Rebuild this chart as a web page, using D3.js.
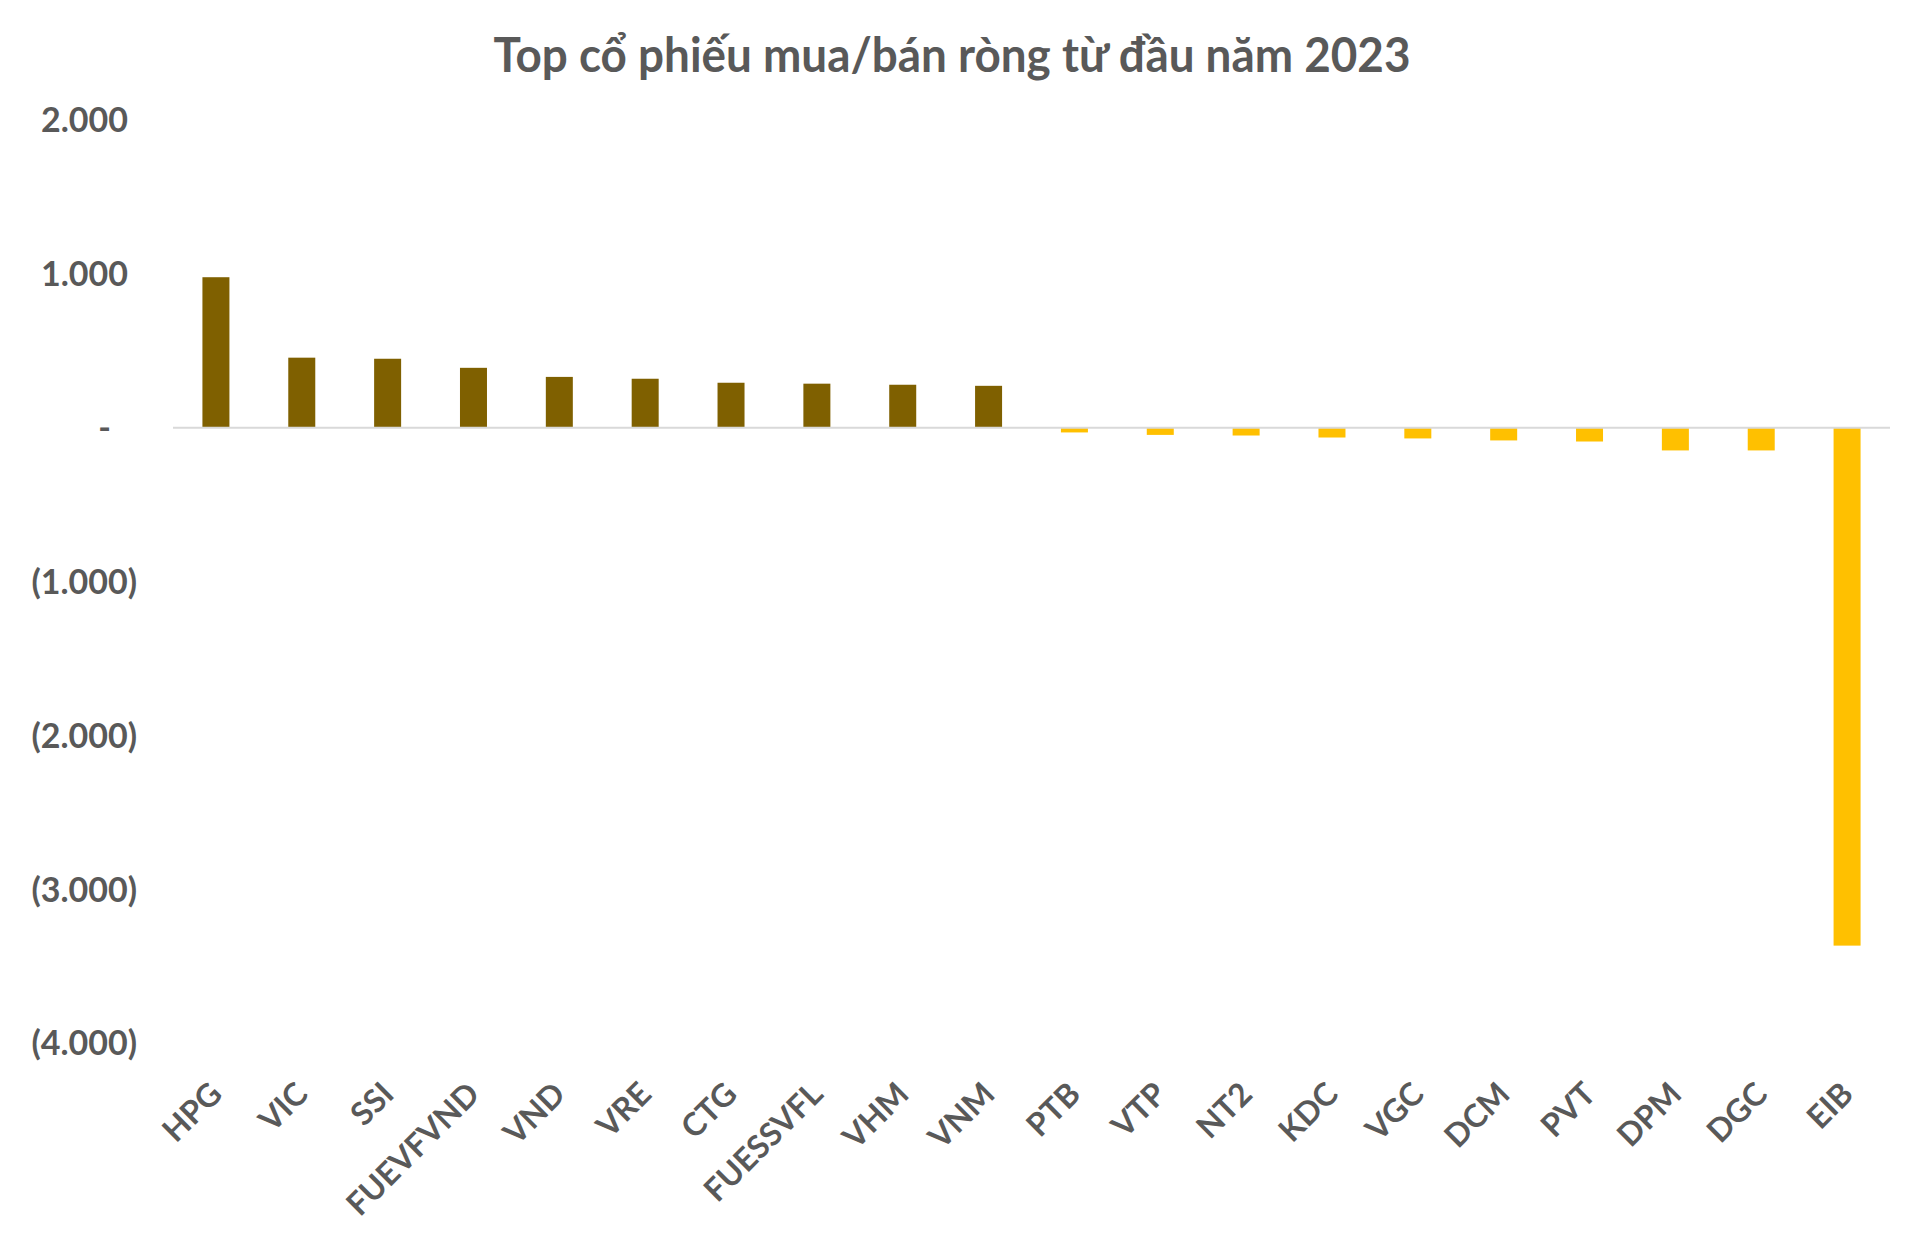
<!DOCTYPE html>
<html>
<head>
<meta charset="utf-8">
<script src="https://cdn.jsdelivr.net/npm/d3@7"></script>
<style>
  body { margin: 0; background: #fff; }
  text { font-family: Lato, "Open Sans", sans-serif; font-weight: bold; fill: #595959; }
</style>
</head>
<body>
<div id="chart"></div>
<script>
// tickers, ordered as in the chart
var tickers = ['HPG', 'VIC', 'SSI', 'FUEVFVND', 'VND', 'VRE', 'CTG', 'FUESSVFL', 'VHM', 'VNM',
               'PTB', 'VTP', 'NT2', 'KDC', 'VGC', 'DCM', 'PVT', 'DPM', 'DGC', 'EIB'];
// net buy/sell value (billion VND)
var netValues = [978, 455, 448, 389, 330, 318, 292, 286, 279, 272,
                 -31, -47, -51, -64, -70, -83, -90, -148, -148, -3367];
var yTicks = [2000, 1000, 0, -1000, -2000, -3000, -4000];
var chartTitle = 'Top cổ phiếu mua/bán ròng từ đầu năm 2023';

var width = 1920, height = 1234;
var margin = {top: 120, right: 30, bottom: 191, left: 173};

var svg = d3.select("#chart")
  .append("svg")
    .attr("width", width)
    .attr("height", height);

svg.append("rect").attr("width", width).attr("height", height).attr("fill", "#fff");

// title
svg.append("text")
    .attr("x", 952)
    .attr("y", 72)
    .attr("text-anchor", "middle")
    .attr("font-size", 47)
    .attr("textLength", 917)
    .attr("lengthAdjust", "spacingAndGlyphs")
    .text(chartTitle);

var data = tickers.map(function(t, i) { return {name: t, value: netValues[i]}; });

var x = d3.scaleBand()
  .domain(tickers)
  .range([margin.left, width - margin.right])
  .paddingInner(0.686)
  .paddingOuter(0.343);

var y = d3.scaleLinear()
  .domain([-4000, 2000])
  .range([height - margin.bottom, margin.top]);

// y axis labels (accounting format: positives padded, negatives in brackets)
var fmt = function(v) {
  var s = d3.format(",")(Math.abs(v)).replace(/,/g, ".");
  if (v === 0) return "-";
  return v < 0 ? "(" + s + ")" : s;
};
var yAxis = d3.axisLeft(y).tickValues(yTicks).tickFormat(fmt).tickSize(0);
var gy = svg.append("g")
    .attr("transform", "translate(" + margin.left + ",0)")
    .call(yAxis);
gy.select(".domain").remove();
gy.selectAll("text")
    .attr("font-size", 34)
    .attr("dy", "0.35em")
    .attr("x", function(d) { return d < 0 ? -36 : (d === 0 ? -62 : -45); })
    .style("font-family", "Lato, sans-serif");

// bars
svg.append("g")
  .selectAll("rect")
  .data(data)
  .enter()
  .append("rect")
    .attr("x", function(d) { return x(d.name) + (x.bandwidth() - 27) / 2; })
    .attr("width", 27)
    .attr("y", function(d) { return y(Math.max(0, d.value)); })
    .attr("height", function(d) { return Math.abs(y(d.value) - y(0)); })
    .attr("fill", function(d) { return d.value >= 0 ? "#7F6000" : "#FFC000"; });

// zero line
svg.append("line")
    .attr("x1", margin.left)
    .attr("x2", width - margin.right)
    .attr("y1", y(0))
    .attr("y2", y(0))
    .attr("stroke", "#D9D9D9")
    .attr("stroke-width", 2);

// category labels, rotated
svg.append("g")
  .selectAll("text")
  .data(tickers)
  .enter()
  .append("text")
    .attr("font-size", 32)
    .attr("text-anchor", "end")
    .attr("transform", function(d) {
      var cx = x(d) + x.bandwidth() / 2 + 8;
      return "translate(" + cx + ",1096) rotate(-45)";
    })
    .text(function(d) { return d; });
</script>
</body>
</html>
